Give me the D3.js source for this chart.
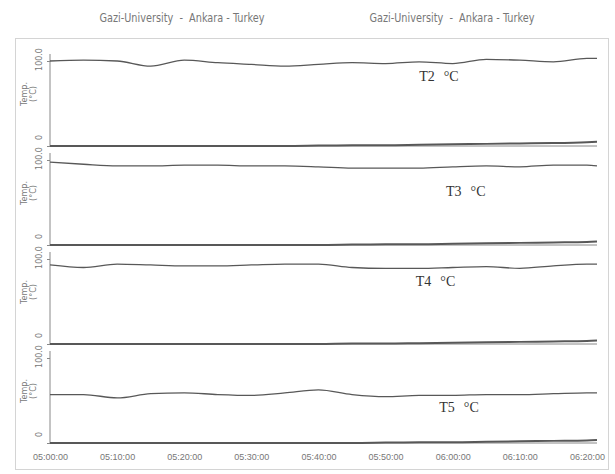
<!DOCTYPE html>
<html lang="en">
<head>
<meta charset="utf-8">
<style>
  body { margin: 0; background: #fff; }
  svg { background-color: white; }
  .tick text, .head, .ylab { font-family: 'DejaVu Sans', sans-serif; fill: #777; }
  .xt text { font-family: 'Liberation Sans', Arial, sans-serif; }
  .serlab { font-family: 'Liberation Serif', 'DejaVu Serif', serif; fill: #333; font-size: 14px; }
</style>
</head>
<body>
<div id="my_dataviz"></div>
<script src="https://cdn.jsdelivr.net/npm/d3@7"></script>
<script>
// minutes after 05:00:00
var minutes = [0, 5, 10, 15, 20, 25, 30, 35, 40, 45, 50, 55, 60, 65, 70, 75, 80, 81.5];
var series = ["T2", "T3", "T4", "T5"];
var t2 = [100, 101, 100, 94, 101, 98, 96, 94, 96, 98, 97, 99, 97, 102, 101, 99, 103, 103];
var t3 = [97.6, 95, 93, 93, 94, 94, 93, 93, 92, 90.5, 90.5, 90.5, 92, 93, 92, 94, 94, 93];
var t4 = [93, 90, 94, 93, 92, 92, 93, 94, 94, 90, 89, 89, 90, 91, 89, 92, 94, 94];
var t5 = [57, 57, 53, 58, 59, 57, 56, 59, 62.5, 57, 54.5, 56, 56, 57, 57, 58, 59, 59];
// lower trace in each panel (near zero)
var b2 = [0, 0, 0, 0, 0, 0, 0, 0, 0.5, 1, 1, 1.5, 2, 2.5, 3, 3.5, 4.5, 5];
var b3 = [0, 0, 0, 0, 0, 0, 0, 0, 0, 0.5, 1, 1, 1.5, 2, 2.5, 3, 3.5, 4];
var b4 = [0, 0, 0, 0, 0, 0, 0, 0, 0, 0.5, 0.5, 1, 1.5, 2, 2.5, 3, 3.5, 4];
var b5 = [0, 0, 0, 0, 0, 0, 0, 0, 0, 0, 0.5, 1, 1, 1.5, 2, 2.5, 3, 3.5];
var yTicks = [0, 100];
var heading = "Gazi-University  -  Ankara - Turkey";

var tops = [t2, t3, t4, t5];
var lows = [b2, b3, b4, b5];

var W = 615, H = 474;
var svg = d3.select("#my_dataviz").append("svg")
  .attr("width", W).attr("height", H);

// outer frame
svg.append("rect")
  .attr("x", 15.5).attr("y", 38.5).attr("width", 593).attr("height", 431)
  .attr("fill", "none").attr("stroke", "#d4d4d4");

// headings (narrow lettering)
svg.selectAll("text.head")
  .data([182, 452])
  .enter().append("text")
    .attr("class", "head")
    .attr("x", function(d) { return d; })
    .attr("y", 22)
    .attr("text-anchor", "middle")
    .attr("xml:space", "preserve")
    .attr("textLength", 165)
    .attr("lengthAdjust", "spacingAndGlyphs")
    .style("font-size", "12px")
    .text(heading);

var t0 = new Date(2000, 0, 1, 5, 0, 0);
function toDate(m) { return new Date(t0.getTime() + m * 60000); }

var x = d3.scaleTime()
  .domain([toDate(0), toDate(81.5)])
  .range([50, 597]);

var lineColor = "#585858";
var labelPos = [[55, 76], [59, 58], [54.5, 68], [58, 37]];

series.forEach(function(name, i) {
  var y0 = 146 + i * 99;
  var y = d3.scaleLinear().domain([0, 100]).range([y0, y0 - 85]);
  var g = svg.append("g");

  // left axis
  var ax = g.append("g")
    .attr("transform", "translate(50,0)")
    .call(d3.axisLeft(y).tickValues(yTicks).tickSize(3)
      .tickFormat(function(d) { return d === 0 ? "0" : "100.0"; }));
  ax.select(".domain").attr("stroke", "#888")
    .attr("d", "M0," + (y0 - 92) + "V" + y0);
  ax.selectAll(".tick line").attr("stroke", "#888");
  ax.selectAll(".tick text")
    .style("font-size", "8px")
    .attr("text-anchor", "middle")
    .attr("transform", function(d) {
      var off = d === 0 ? -9 : -2;
      return "translate(-11," + off + ") rotate(-90)";
    })
    .attr("x", 0).attr("dy", "0.32em");

  // rotated axis title
  var yl = g.append("text")
    .attr("class", "ylab")
    .attr("transform", "translate(27," + (y0 - 52) + ") rotate(-90)")
    .attr("text-anchor", "middle")
    .style("font-size", "8px");
  yl.append("tspan").attr("x", 0).attr("dy", "0").text("Temp.");
  yl.append("tspan").attr("x", 0).attr("dy", "1.15em").text("(\u00b0C)");

  // baseline
  g.append("line")
    .attr("x1", x.range()[0]).attr("x2", x.range()[1])
    .attr("y1", y(0)).attr("y2", y(0))
    .attr("stroke", "#888").attr("stroke-width", 1);

  var line = d3.line()
    .x(function(d, k) { return x(toDate(minutes[k])); })
    .y(function(d) { return y(d); })
    .curve(d3.curveMonotoneX);

  g.append("path")
    .datum(lows[i])
    .attr("fill", "none").attr("stroke", lineColor).attr("stroke-width", 2)
    .attr("d", line);

  g.append("path")
    .datum(tops[i])
    .attr("fill", "none").attr("stroke", lineColor).attr("stroke-width", 1.3)
    .attr("d", line);

  var lab = g.append("text")
    .attr("class", "serlab")
    .attr("x", x(toDate(labelPos[i][0])))
    .attr("y", y(labelPos[i][1]));
  lab.append("tspan").text(name);
  lab.append("tspan").attr("dx", 9).text("\u00b0C");

  // time axis under the last panel
  if (i === series.length - 1) {
    var xa = svg.append("g")
      .attr("class", "xt")
      .attr("transform", "translate(0," + y0 + ")")
      .call(d3.axisBottom(x)
        .tickValues(d3.range(0, 81, 10).map(toDate))
        .tickSize(0)
        .tickFormat(d3.timeFormat("%H:%M:%S")));
    xa.select(".domain").remove();
    xa.selectAll(".tick text")
      .style("font-size", "9px")
      .attr("dy", "1.5em");
  }
});
</script>
</body>
</html>
